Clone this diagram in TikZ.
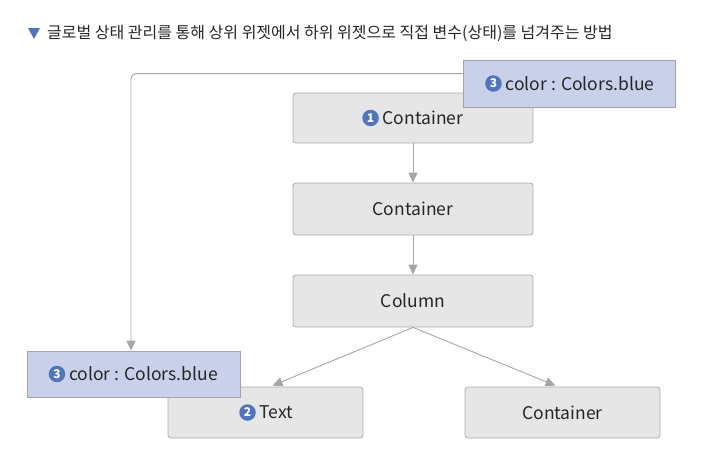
\documentclass[tikz,border=0pt]{standalone}
\usepackage{fontspec}
\setmainfont{Noto Sans CJK KR}
\usetikzlibrary{arrows.meta,calc}
\definecolor{boxfill}{HTML}{E6E6E6}
\definecolor{boxline}{HTML}{ABABAB}
\definecolor{lblfill}{HTML}{C9D0E9}
\definecolor{lblline}{HTML}{A3A3A8}
\definecolor{numblue}{HTML}{4F76BC}
\definecolor{conn}{HTML}{A6A6A6}
\begin{document}
\begin{tikzpicture}[x=1pt,y=-1pt,
  wbox/.style={draw=boxline,fill=boxfill,rounded corners=3pt,line width=0.8pt,inner sep=0pt,font=\fontsize{17.5}{17.5}\selectfont,text=black!85},
  lbl/.style={draw=lblline,fill=lblfill,line width=0.8pt,inner sep=0pt,font=\fontsize{17.5}{17.5}\selectfont,text=black!85},
  btext/.style={inner sep=0pt,font=\fontsize{17.5}{17.5}\selectfont,text=black!85},
  numdot/.style={circle,fill=numblue,draw=none,inner sep=0pt,minimum size=16.5pt,text=white,font=\fontsize{12}{12}\selectfont\bfseries},
  arr/.style={draw=conn,line width=0.9pt,-{Triangle[length=10pt,width=9pt]}}]
\useasboundingbox (0,0) rectangle (722,466);
\node[anchor=west,font=\fontsize{16}{16}\selectfont,text=black!85,inner sep=0pt] (title) at (47,33) {글로벌 상태 관리를 통해 상위 위젯에서 하위 위젯으로 직접 변수(상태)를 넘겨주는 방법};
\fill[numblue] (28,28) -- (40,28) -- (34,39) -- cycle;

\node[wbox,minimum width=240pt,minimum height=50pt] (c1) at (413,118) {};
\node[btext] (c1t) at ($(c1)+(10,0)$) {Container};
\node[numdot] (d1) at ($(c1t.west)+(-12,0)$) {1};
\node[wbox,minimum width=240pt,minimum height=52pt] (c2) at (413,209) {Container};
\node[wbox,minimum width=240pt,minimum height=52pt] (col) at (413,301) {Column};
\node[wbox,minimum width=195pt,minimum height=51pt] (txt) at (265.5,412.5) {};
\node[btext] (txtt) at ($(txt)+(11,0)$) {Text};
\node[numdot] (d2) at ($(txtt.west)+(-12,0)$) {2};
\node[wbox,minimum width=195pt,minimum height=51pt] (c3) at (562.5,412.5) {Container};
\node[lbl,minimum width=212pt,minimum height=47pt] (lt) at (569,83.5) {};
\node[btext] (ltt) at ($(lt)+(11,0)$) {color : Colors.blue};
\node[numdot] (d3) at ($(ltt.west)+(-12,0)$) {3};
\node[lbl,minimum width=213pt,minimum height=46pt] (lb) at (133.5,374) {};
\node[btext] (lbt) at ($(lb)+(10,0)$) {color : Colors.blue};
\node[numdot] (d4) at ($(lbt.west)+(-12,0)$) {3};

\coordinate (s) at ($(lt.north west)+(0,14)$);
\coordinate (e) at ($(lb.north)+(-2.5,0)$);
\draw[arr,rounded corners=5pt] (s) -| (e);
\draw[arr] (c1) -- (c2);
\draw[arr] (c2) -- (col);
\draw[arr] (col.south) -- ($(txt.north)+(7,-1)$);
\draw[arr] (col.south) -- ($(c3.north)+(-7,-1)$);
\end{tikzpicture}
\end{document}
